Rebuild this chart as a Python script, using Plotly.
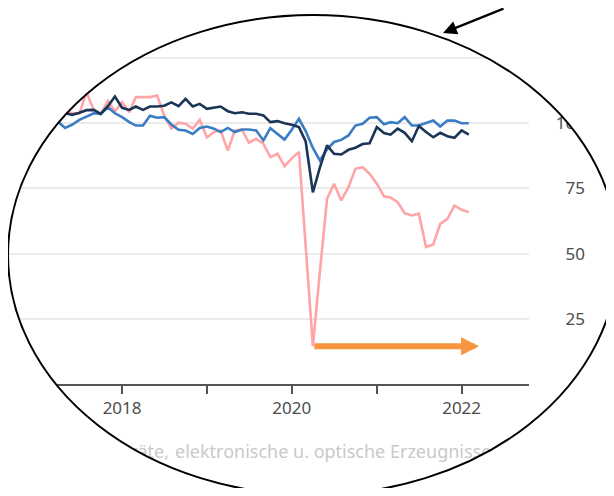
import numpy as np
import pandas as pd
import plotly.graph_objects as go

# monthly index values, Jan 2017 - Feb 2022
months = pd.date_range("2017-01-01", "2022-02-01", freq="MS")

navy = [102.5, 103.5, 102.0, 104.0, 103.8, 103.2, 104.0, 105.0, 105.1, 103.6, 106.5, 110.2,
        105.9, 105.1, 106.4, 105.1, 106.4, 106.4, 106.7, 108.0, 106.5, 109.3, 106.4, 107.4,
        105.5, 106.1, 106.4, 104.6, 103.8, 104.2, 103.6, 103.6, 103.0, 100.4, 100.8, 100.0,
        99.4, 98.5, 93.0, 73.5, 83.0, 91.5, 88.3, 88.0, 89.8, 90.6, 92.0, 92.3,
        98.5, 96.2, 95.6, 97.9, 96.3, 93.1, 98.9, 96.6, 94.6, 96.3, 95.0, 94.4,
        97.2, 95.6]

blue = [101.0, 100.0, 102.0, 100.5, 98.2, 99.5, 101.3, 102.5, 103.8, 103.6, 106.1, 103.8,
        102.3, 100.4, 99.1, 99.1, 102.9, 102.1, 102.3, 99.5, 97.5, 97.2, 95.9, 98.2,
        98.7, 97.9, 96.6, 98.2, 96.6, 97.6, 97.6, 97.2, 93.4, 98.1, 95.9, 93.7,
        97.5, 101.7, 97.0, 90.5, 85.7, 90.0, 92.8, 93.6, 95.3, 99.1, 99.8, 102.1,
        102.3, 99.6, 100.4, 100.0, 102.3, 99.1, 99.1, 100.0, 101.0, 98.7, 101.0, 101.0,
        100.0, 100.0]

pink = [102.0, 104.5, 103.0, 106.0, 104.2, 103.9, 103.6, 111.9, 105.0, 103.6, 108.5, 104.5,
        108.1, 104.2, 110.0, 110.0, 110.0, 110.6, 103.0, 98.0, 100.2, 99.8, 97.9, 101.3,
        94.5, 96.6, 97.2, 89.5, 97.2, 97.5, 92.5, 94.0, 92.1, 87.0, 88.3, 83.5,
        86.5, 89.0, 52.0, 14.5, 43.0, 71.0, 76.8, 70.4, 75.5, 82.5, 83.1, 80.6,
        76.8, 72.0, 71.5, 69.7, 65.5, 64.6, 65.3, 52.5, 53.5, 61.4, 63.3, 68.4,
        66.8, 65.9]

year_ticks = ["2017-01-01", "2018-01-01", "2019-01-01", "2020-01-01", "2021-01-01", "2022-01-01"]
year_labels = ["", "2018", "", "2020", "", "2022"]
y_ticks = [0, 25, 50, 75, 100, 125]

caption_left = "Datenverarbeitungsgeräte,"
caption_right = "elektronische u. optische Erzeugnisse"

# the page has an 8px body margin, so the figure is 16px smaller than the window
OFF = 8
W, H = 614 - 2 * OFF, 496 - 2 * OFF
# plot area in window pixels
PL, PR, PT, PB = OFF, 529, 20, 384


def px_x(wx):
    # paper x spans the whole figure width (margins l=r=0)
    return (wx - OFF) / W


def px_y(wy):
    return (PB - wy) / (PB - PT)


fig = go.Figure()

for vals, col in [(pink, "#ffa5a8"), (blue, "#3b7dc4"), (navy, "#1a3556")]:
    fig.add_trace(go.Scatter(x=months, y=vals, mode="lines",
                             line=dict(color=col, width=2.6),
                             hoverinfo="skip", showlegend=False))

font_family = "Noto Sans"
cap_font = dict(family=font_family, size=18, color="#c9c9c9")

# legend caption below the axis, as shape labels so the lens mask covers it
cap_y0, cap_y1 = 464, 440
fig.add_shape(type="rect", xref="paper", yref="paper",
              x0=px_x(169), x1=px_x(640), y0=px_y(cap_y0), y1=px_y(cap_y1),
              line=dict(width=0), fillcolor="rgba(0,0,0,0)", layer="above",
              label=dict(text=caption_right, textposition="middle left", font=cap_font))
fig.add_shape(type="rect", xref="paper", yref="paper",
              x0=px_x(-300), x1=px_x(175), y0=px_y(cap_y0), y1=px_y(cap_y1),
              line=dict(width=0), fillcolor="rgba(0,0,0,0)", layer="above",
              label=dict(text=caption_left, textposition="middle right", font=cap_font))

# white mask with an elliptical hole (the "lens")
cx, cy, rx, ry = 313, 255, 305, 240
t = np.linspace(0, 2 * np.pi, 241)
ex = cx + rx * np.cos(t)
ey = cy + ry * np.sin(t)
outer = [(-20, -20), (640, -20), (640, 520), (-20, 520)]
path = "M " + " L ".join(f"{px_x(a):.5f},{px_y(b):.5f}" for a, b in outer) + " Z"
path += " M " + " L ".join(f"{px_x(a):.5f},{px_y(b):.5f}" for a, b in zip(ex, ey)) + " Z"

fig.add_shape(type="path", path=path, xref="paper", yref="paper",
              fillcolor="white", fillrule="evenodd", line=dict(width=0), layer="above")
fig.add_shape(type="circle", xref="paper", yref="paper",
              x0=px_x(cx - rx), x1=px_x(cx + rx), y0=px_y(cy + ry), y1=px_y(cy - ry),
              line=dict(color="black", width=2), layer="above")

imin = int(np.argmin(pink))
fig.add_annotation(x="2022-03-17", y=pink[imin], xref="x", yref="y",
                   ax=months[imin], ay=pink[imin], axref="x", ayref="y",
                   text="", showarrow=True, arrowhead=2, arrowsize=0.6,
                   arrowwidth=6, arrowcolor="#f7963e")
fig.add_annotation(x=px_x(443), y=px_y(33), xref="paper", yref="paper",
                   ax=62, ay=-55, text="", showarrow=True, arrowhead=2,
                   arrowsize=1.2, arrowwidth=2.3, arrowcolor="black")

fig.update_layout(
    width=W, height=H,
    margin=dict(l=0, r=0, t=PT - OFF, b=H + OFF - PB, autoexpand=False),
    plot_bgcolor="white", paper_bgcolor="white",
    font=dict(family=font_family, size=17, color="#4d4d4d"),
    xaxis=dict(
        domain=[0, (PR - OFF) / W],
        range=["2016-08-28", "2022-10-18"],
        tickvals=year_ticks, ticktext=year_labels,
        ticks="outside", ticklen=8, tickwidth=1.5, tickcolor="#555",
        showline=True, linecolor="#555", linewidth=1.5,
        showgrid=False, zeroline=False,
        ),
    yaxis=dict(
        range=[0, (PB - PT) / 2.608],
        tickvals=y_ticks,
        anchor="free", position=(585 - OFF) / W, side="left",
        showgrid=True, gridcolor="#ebebeb", gridwidth=1.5,
        zeroline=False, showline=False, ticks="",
        ),
    )

fig.write_html("out.html")
